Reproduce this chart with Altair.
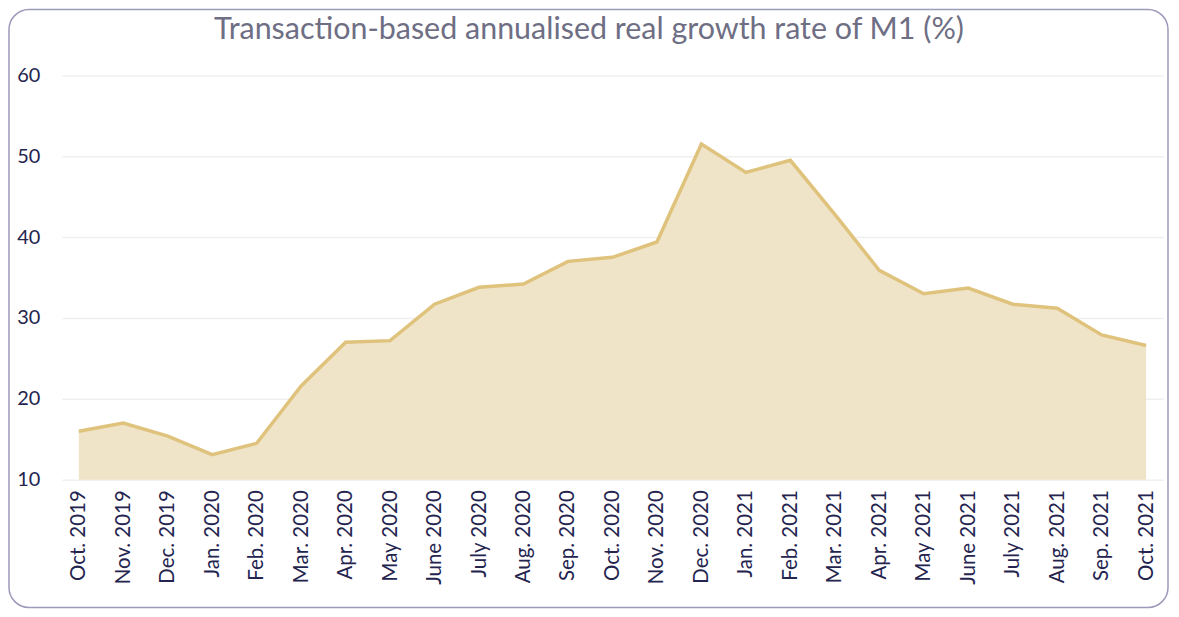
import altair as alt
import pandas as pd

months = ["Oct. 2019", "Nov. 2019", "Dec. 2019", "Jan. 2020", "Feb. 2020", "Mar. 2020",
          "Apr. 2020", "May 2020", "June 2020", "July 2020", "Aug. 2020", "Sep. 2020",
          "Oct. 2020", "Nov. 2020", "Dec. 2020", "Jan. 2021", "Feb. 2021", "Mar. 2021",
          "Apr. 2021", "May 2021", "June 2021", "July 2021", "Aug. 2021", "Sep. 2021",
          "Oct. 2021"]
growth = [16.0, 17.0, 15.4, 13.1, 14.5, 21.6,
          27.0, 27.2, 31.7, 33.8, 34.2, 37.0,
          37.5, 39.4, 51.5, 48.0, 49.5, 42.8,
          35.9, 33.0, 33.7, 31.7, 31.2, 27.9,
          26.6]
y_ticks = [10, 20, 30, 40, 50, 60]
title_text = "Transaction-based annualised real growth rate of M1 (%)"

df = pd.DataFrame({"month": months, "value": growth})

FONT = "Lato"
W, H = 1103, 405

x_enc = alt.X("month:N", sort=months, title=None,
              scale=alt.Scale(type="point", padding=0.38),
              axis=alt.Axis(labelAngle=-90, labelAlign="right", labelBaseline="middle",
                            labelPadding=10, ticks=False, domain=False, grid=False,
                            labelFontSize=20.5, labelColor="#24244f", labelFont=FONT))
y_enc = alt.Y("value:Q", title=None,
              scale=alt.Scale(domain=[10, 60], nice=False, zero=False),
              axis=alt.Axis(values=y_ticks, ticks=False, domain=False, grid=True,
                            gridColor="#efefef", gridWidth=1.5,
                            labelPadding=22, labelFontSize=20, labelColor="#24244f",
                            labelFont=FONT))

base = alt.Chart(df)
area = base.mark_area(color="#f0e4c8", opacity=1).encode(
    x=x_enc, y=y_enc, y2=alt.datum(10))
line = base.mark_line(color="#dfc27c", strokeWidth=3.5).encode(x=x_enc, y=y_enc)

one = pd.DataFrame({"t": [title_text]})
frame = alt.Chart(one).mark_rect(
    fill=None, stroke="#9c9abb", strokeWidth=1.5, cornerRadius=20, clip=False
).encode(x=alt.value(-53), x2=alt.value(1108), y=alt.value(-66), y2=alt.value(533))

title = alt.Chart(one).mark_text(
    font=FONT, fontSize=30.5, color="#6e6e84", align="center", baseline="alphabetic"
).encode(text="t:N", x=alt.value(528), y=alt.value(-36))

chart = alt.layer(frame, area, line, title).properties(
    width=W, height=H,
    padding={"left": 54, "top": 67, "right": 8, "bottom": 130},
    autosize=alt.AutoSizeParams(type="none"),
).configure_view(stroke=None)

chart.save("out.html", embed_options={"renderer": "svg", "actions": False})
